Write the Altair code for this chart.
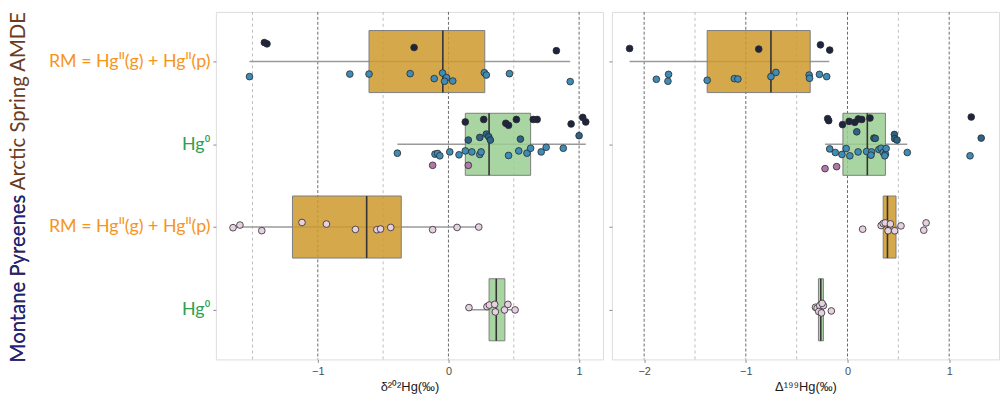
import json
import altair as alt
import pandas as pd

# ---------------- data ----------------
row_ids = [1, 2, 3, 4]
row_labels = ["RM = Hgᴵᴵ(g) + Hgᴵᴵ(p)", "Hg⁰", "RM = Hgᴵᴵ(g) + Hgᴵᴵ(p)", "Hg⁰"]
row_species = ["RM", "Hg0", "RM", "Hg0"]

site_titles = ["Montane Pyreenes", "Arctic Spring AMDE"]

# box statistics, delta202Hg (rows top to bottom)
d202_q1 = [-0.608, 0.129, -1.194, 0.311]
d202_med = [-0.043, 0.311, -0.626, 0.366]
d202_q3 = [0.278, 0.629, -0.361, 0.432]
d202_lo = [-1.523, -0.391, -1.649, 0.157]
d202_hi = [0.932, 1.051, 0.232, 0.510]

# box statistics, Delta199Hg
D199_q1 = [-1.380, -0.045, 0.351, -0.286]
D199_med = [-0.753, 0.195, 0.393, -0.263]
D199_q3 = [-0.367, 0.373, 0.477, -0.237]
D199_lo = [-2.143, -0.221, 0.331, -0.315]
D199_hi = [-0.179, 0.588, 0.526, -0.237]

# individual samples: values and jitter (in row units)
d202_r1_navy_x = [-1.409, -1.389, -0.263, 0.826]
d202_r1_navy_j = [-0.23, -0.214, -0.17, -0.131]
d202_r1_steel_x = [-1.523, -0.755, -0.608, -0.293, -0.109, -0.045, -0.015, -0.03, 0.033, 0.275, 0.29, 0.467, 0.932]
d202_r1_steel_j = [0.182, 0.151, 0.151, 0.146, 0.206, 0.139, 0.194, 0.238, 0.235, 0.135, 0.163, 0.146, 0.242]
d202_r2_navy_x = [0.129, 0.270, 0.439, 0.460, 0.520, 0.649, 0.679, 0.939, 1.028, 1.051]
d202_r2_navy_j = [-0.27, -0.30, -0.254, -0.23, -0.30, -0.30, -0.30, -0.246, -0.325, -0.27]
d202_r2_dblue_x = [0.152, 0.240, 0.290, 0.308, 0.321, 0.551, 1.0]
d202_r2_dblue_j = [-0.051, -0.083, -0.123, -0.092, -0.051, -0.063, -0.104]
d202_r2_steel_x = [-0.391, -0.103, -0.083, -0.066, 0.010, 0.081, 0.129, 0.179, 0.240, 0.250, 0.460, 0.538, 0.601, 0.629, 0.710, 0.748, 0.879]
d202_r2_steel_j = [0.107, 0.119, 0.111, 0.139, 0.092, 0.127, 0.08, 0.092, 0.123, 0.092, 0.135, 0.08, 0.107, 0.048, 0.092, 0.036, 0.048]
d202_r2_purple_x = [-0.121, 0.152]
d202_r2_purple_j = [0.254, 0.254]
d202_r3_pink_x = [-1.649, -1.596, -1.429, -1.121, -0.934, -0.712, -0.548, -0.520, -0.442, -0.121, 0.066, 0.232]
d202_r3_pink_j = [0.008, -0.024, 0.044, -0.055, -0.036, 0.029, 0.032, 0.024, 0.005, 0.032, 0.005, 0.0]
d202_r4_pink_x = [0.157, 0.295, 0.313, 0.354, 0.359, 0.429, 0.455, 0.510]
d202_r4_pink_j = [-0.026, -0.038, -0.057, -0.065, 0.026, 0.002, -0.065, 0.002]

D199_r1_navy_x = [-2.143, -0.873, -0.266, -0.175]
D199_r1_navy_j = [-0.158, -0.151, -0.202, -0.139]
D199_r1_steel_x = [-1.880, -1.760, -1.766, -1.380, -1.113, -1.078, -0.753, -0.704, -0.377, -0.373, -0.276, -0.205]
D199_r1_steel_j = [0.214, 0.155, 0.238, 0.226, 0.206, 0.211, 0.182, 0.131, 0.163, 0.202, 0.155, 0.182]
D199_r2_navy_x = [-0.195, -0.185, -0.049, 0.016, 0.071, 0.107, 0.140, 0.221, 1.217]
D199_r2_navy_j = [-0.31, -0.286, -0.238, -0.277, -0.265, -0.306, -0.30, -0.318, -0.33]
D199_r2_dblue_x = [0.091, 0.26, 0.273, 0.461, 0.464, 0.487, 1.315]
D199_r2_dblue_j = [-0.151, -0.075, -0.071, -0.119, -0.068, -0.051, -0.075]
D199_r2_steel_x = [-0.175, -0.12, -0.055, -0.013, 0.023, 0.104, 0.188, 0.237, 0.231, 0.308, 0.331, 0.351, 0.373, 0.380, 0.367, 0.588, 1.205]
D199_r2_steel_j = [0.056, 0.099, 0.123, 0.051, 0.139, 0.092, 0.087, 0.092, 0.131, 0.063, 0.048, 0.099, 0.119, 0.051, 0.139, 0.099, 0.139]
D199_r2_purple_x = [-0.221, -0.107]
D199_r2_purple_j = [0.294, 0.27]
D199_r3_pink_x = [0.149, 0.331, 0.351, 0.370, 0.399, 0.422, 0.464, 0.526, 0.750, 0.773]
D199_r3_pink_j = [0.026, -0.018, -0.042, -0.05, 0.045, -0.038, 0.045, -0.014, 0.038, -0.05]
D199_r4_pink_x = [-0.315, -0.299, -0.273, -0.237, -0.283, -0.256, -0.159, -0.25]
D199_r4_pink_j = [-0.03, -0.018, -0.05, -0.05, 0.021, 0.038, 0.014, -0.077]

d202_major = [-1, 0, 1]
d202_minor = [-1.5, -0.5, 0.5]
D199_major = [-2, -1, 0, 1]
D199_minor = [-1.5, -0.5, 0.5]

# ---------------- styling ----------------
groups = ["navy", "dblue", "steel", "purple", "pink"]
group_colors = ["#1f2540", "#2b6487", "#3f8cb6", "#b07aa8", "#e8d0e3"]
box_fill = {"RM": "#cc992c", "Hg0": "#99ce92"}
lab_col = {"RM": "#f7941d", "Hg0": "#2ca14f"}
title_colors = ["#23237a", "#6b3b1e"]
GRID_MAJ = "#6a6a6a"
GRID_MIN = "#bdbdbd"
TITLE_SIZE = 20.5


def box_frame(q1, med, q3, lo, hi):
    return pd.DataFrame({"row": row_ids, "species": row_species, "q1": q1, "med": med,
                         "q3": q3, "lo": lo, "hi": hi})


def pts_frame(parts):
    recs = []
    for row, grp, xs, js in parts:
        for x, j in zip(xs, js):
            recs.append({"row": row, "grp": grp, "x": x, "jit": j})
    return pd.DataFrame(recs)


d202_box = box_frame(d202_q1, d202_med, d202_q3, d202_lo, d202_hi)
D199_box = box_frame(D199_q1, D199_med, D199_q3, D199_lo, D199_hi)

d202_pts = pts_frame([
    (1, "navy", d202_r1_navy_x, d202_r1_navy_j),
    (1, "steel", d202_r1_steel_x, d202_r1_steel_j),
    (2, "navy", d202_r2_navy_x, d202_r2_navy_j),
    (2, "dblue", d202_r2_dblue_x, d202_r2_dblue_j),
    (2, "steel", d202_r2_steel_x, d202_r2_steel_j),
    (2, "purple", d202_r2_purple_x, d202_r2_purple_j),
    (3, "pink", d202_r3_pink_x, d202_r3_pink_j),
    (4, "pink", d202_r4_pink_x, d202_r4_pink_j),
])
D199_pts = pts_frame([
    (1, "navy", D199_r1_navy_x, D199_r1_navy_j),
    (1, "steel", D199_r1_steel_x, D199_r1_steel_j),
    (2, "navy", D199_r2_navy_x, D199_r2_navy_j),
    (2, "dblue", D199_r2_dblue_x, D199_r2_dblue_j),
    (2, "steel", D199_r2_steel_x, D199_r2_steel_j),
    (2, "purple", D199_r2_purple_x, D199_r2_purple_j),
    (3, "pink", D199_r3_pink_x, D199_r3_pink_j),
    (4, "pink", D199_r4_pink_x, D199_r4_pink_j),
])

W, H = 391, 351
HALF = 0.375

label_expr = json.dumps(row_labels, ensure_ascii=False) + "[datum.value - 1]"
rm_test = " || ".join(f"datum.value == {r}" for r, s in zip(row_ids, row_species) if s == "RM")


def panel(box_df, pts_df, domain, major, minor, title, left):
    xsc = alt.Scale(domain=domain, nice=False, zero=False)
    ysc = alt.Scale(domain=[0.4, 4.6], reverse=True, nice=False, zero=False)
    xaxis = alt.Axis(values=major, title=title, grid=False, domain=False, tickSize=3,
                     tickColor="#8a8a8a", labelFont="Liberation Sans", labelFontSize=11,
                     labelColor="#4d4d4d", labelPadding=3, titleFont="Liberation Sans",
                     titleFontSize=13, titleFontWeight="normal", titleColor="#1a1a1a",
                     titlePadding=4)
    if left:
        yaxis = alt.Axis(values=row_ids, labelExpr=label_expr, title=None, grid=False,
                         domain=False, tickSize=3, tickColor="#8a8a8a", labelFont="Lato",
                         labelFontSize=18, labelPadding=3, labelLimit=400,
                         labelColor={"condition": {"test": rm_test, "value": lab_col["RM"]},
                                     "value": lab_col["Hg0"]})
    else:
        yaxis = alt.Axis(values=row_ids, labels=False, title=None, grid=False, domain=False,
                         tickSize=3, tickColor="#8a8a8a")

    X = lambda f: alt.X(f, scale=xsc, axis=xaxis)
    Y = lambda f: alt.Y(f, scale=ysc, axis=yaxis)

    maj = alt.Chart(pd.DataFrame({"v": major})).mark_rule(
        color=GRID_MAJ, strokeDash=[3, 2], strokeWidth=1).encode(x=X("v:Q"))
    mnr = alt.Chart(pd.DataFrame({"v": minor})).mark_rule(
        color=GRID_MIN, strokeDash=[3, 3], strokeWidth=1).encode(x=X("v:Q"))

    base = alt.Chart(box_df).transform_calculate(
        y0=f"datum.row - {HALF}", y1=f"datum.row + {HALF}")
    whisk = base.mark_rule(color="#9a9a9a", strokeWidth=1.6).encode(
        x=X("lo:Q"), x2="hi:Q", y=Y("row:Q"))
    box = base.mark_rect(stroke="#7d7d7d", strokeWidth=1, fillOpacity=0.85).encode(
        x=X("q1:Q"), x2="q3:Q", y=Y("y0:Q"), y2="y1:Q",
        fill=alt.Fill("species:N", scale=alt.Scale(domain=list(box_fill.keys()),
                                                     range=list(box_fill.values())), legend=None))
    med = base.mark_rule(color="#333333", strokeWidth=1.6).encode(
        x=X("med:Q"), y=Y("y0:Q"), y2="y1:Q")
    pts = alt.Chart(pts_df).transform_calculate(yy="datum.row + datum.jit").mark_circle(
        size=46, opacity=1, stroke="#2a2a2a", strokeWidth=0.8).encode(
        x=X("x:Q"), y=Y("yy:Q"),
        color=alt.Color("grp:N", scale=alt.Scale(domain=groups, range=group_colors), legend=None))

    layers = [mnr, maj, whisk, box, med, pts]
    if left:
        full = " ".join(site_titles)
        # whole title in the second colour, first words overprinted in the first colour
        t_full = alt.Chart(pd.DataFrame({"t": [full]})).mark_text(
            angle=270, align="left", baseline="top", font="Lato", fontSize=TITLE_SIZE,
            color=title_colors[1]).encode(text="t:N", x=alt.value(-209), y=alt.value(354))
        t_first = alt.Chart(pd.DataFrame({"t": [site_titles[0]]})).mark_text(
            angle=270, align="left", baseline="top", font="Lato", fontSize=TITLE_SIZE,
            color=title_colors[0]).encode(text="t:N", x=alt.value(-209), y=alt.value(354))
        layers += [t_full, t_first]
    return alt.layer(*layers).properties(width=W, height=H)


p1 = panel(d202_box, d202_pts, [-1.78, 1.183], d202_major, d202_minor, "δ²⁰²Hg(‰)", True)
p2 = panel(D199_box, D199_pts, [-2.317, 1.49], D199_major, D199_minor, "Δ¹⁹⁹Hg(‰)", False)

chart = alt.hconcat(p1, p2, spacing=4).properties(
    padding={"left": 0, "top": 0, "right": 0, "bottom": 0}
).configure_view(stroke="#9e9e9e", strokeWidth=1).configure(background="white")

chart.save("out.html", embed_options={"renderer": "svg", "actions": False})
